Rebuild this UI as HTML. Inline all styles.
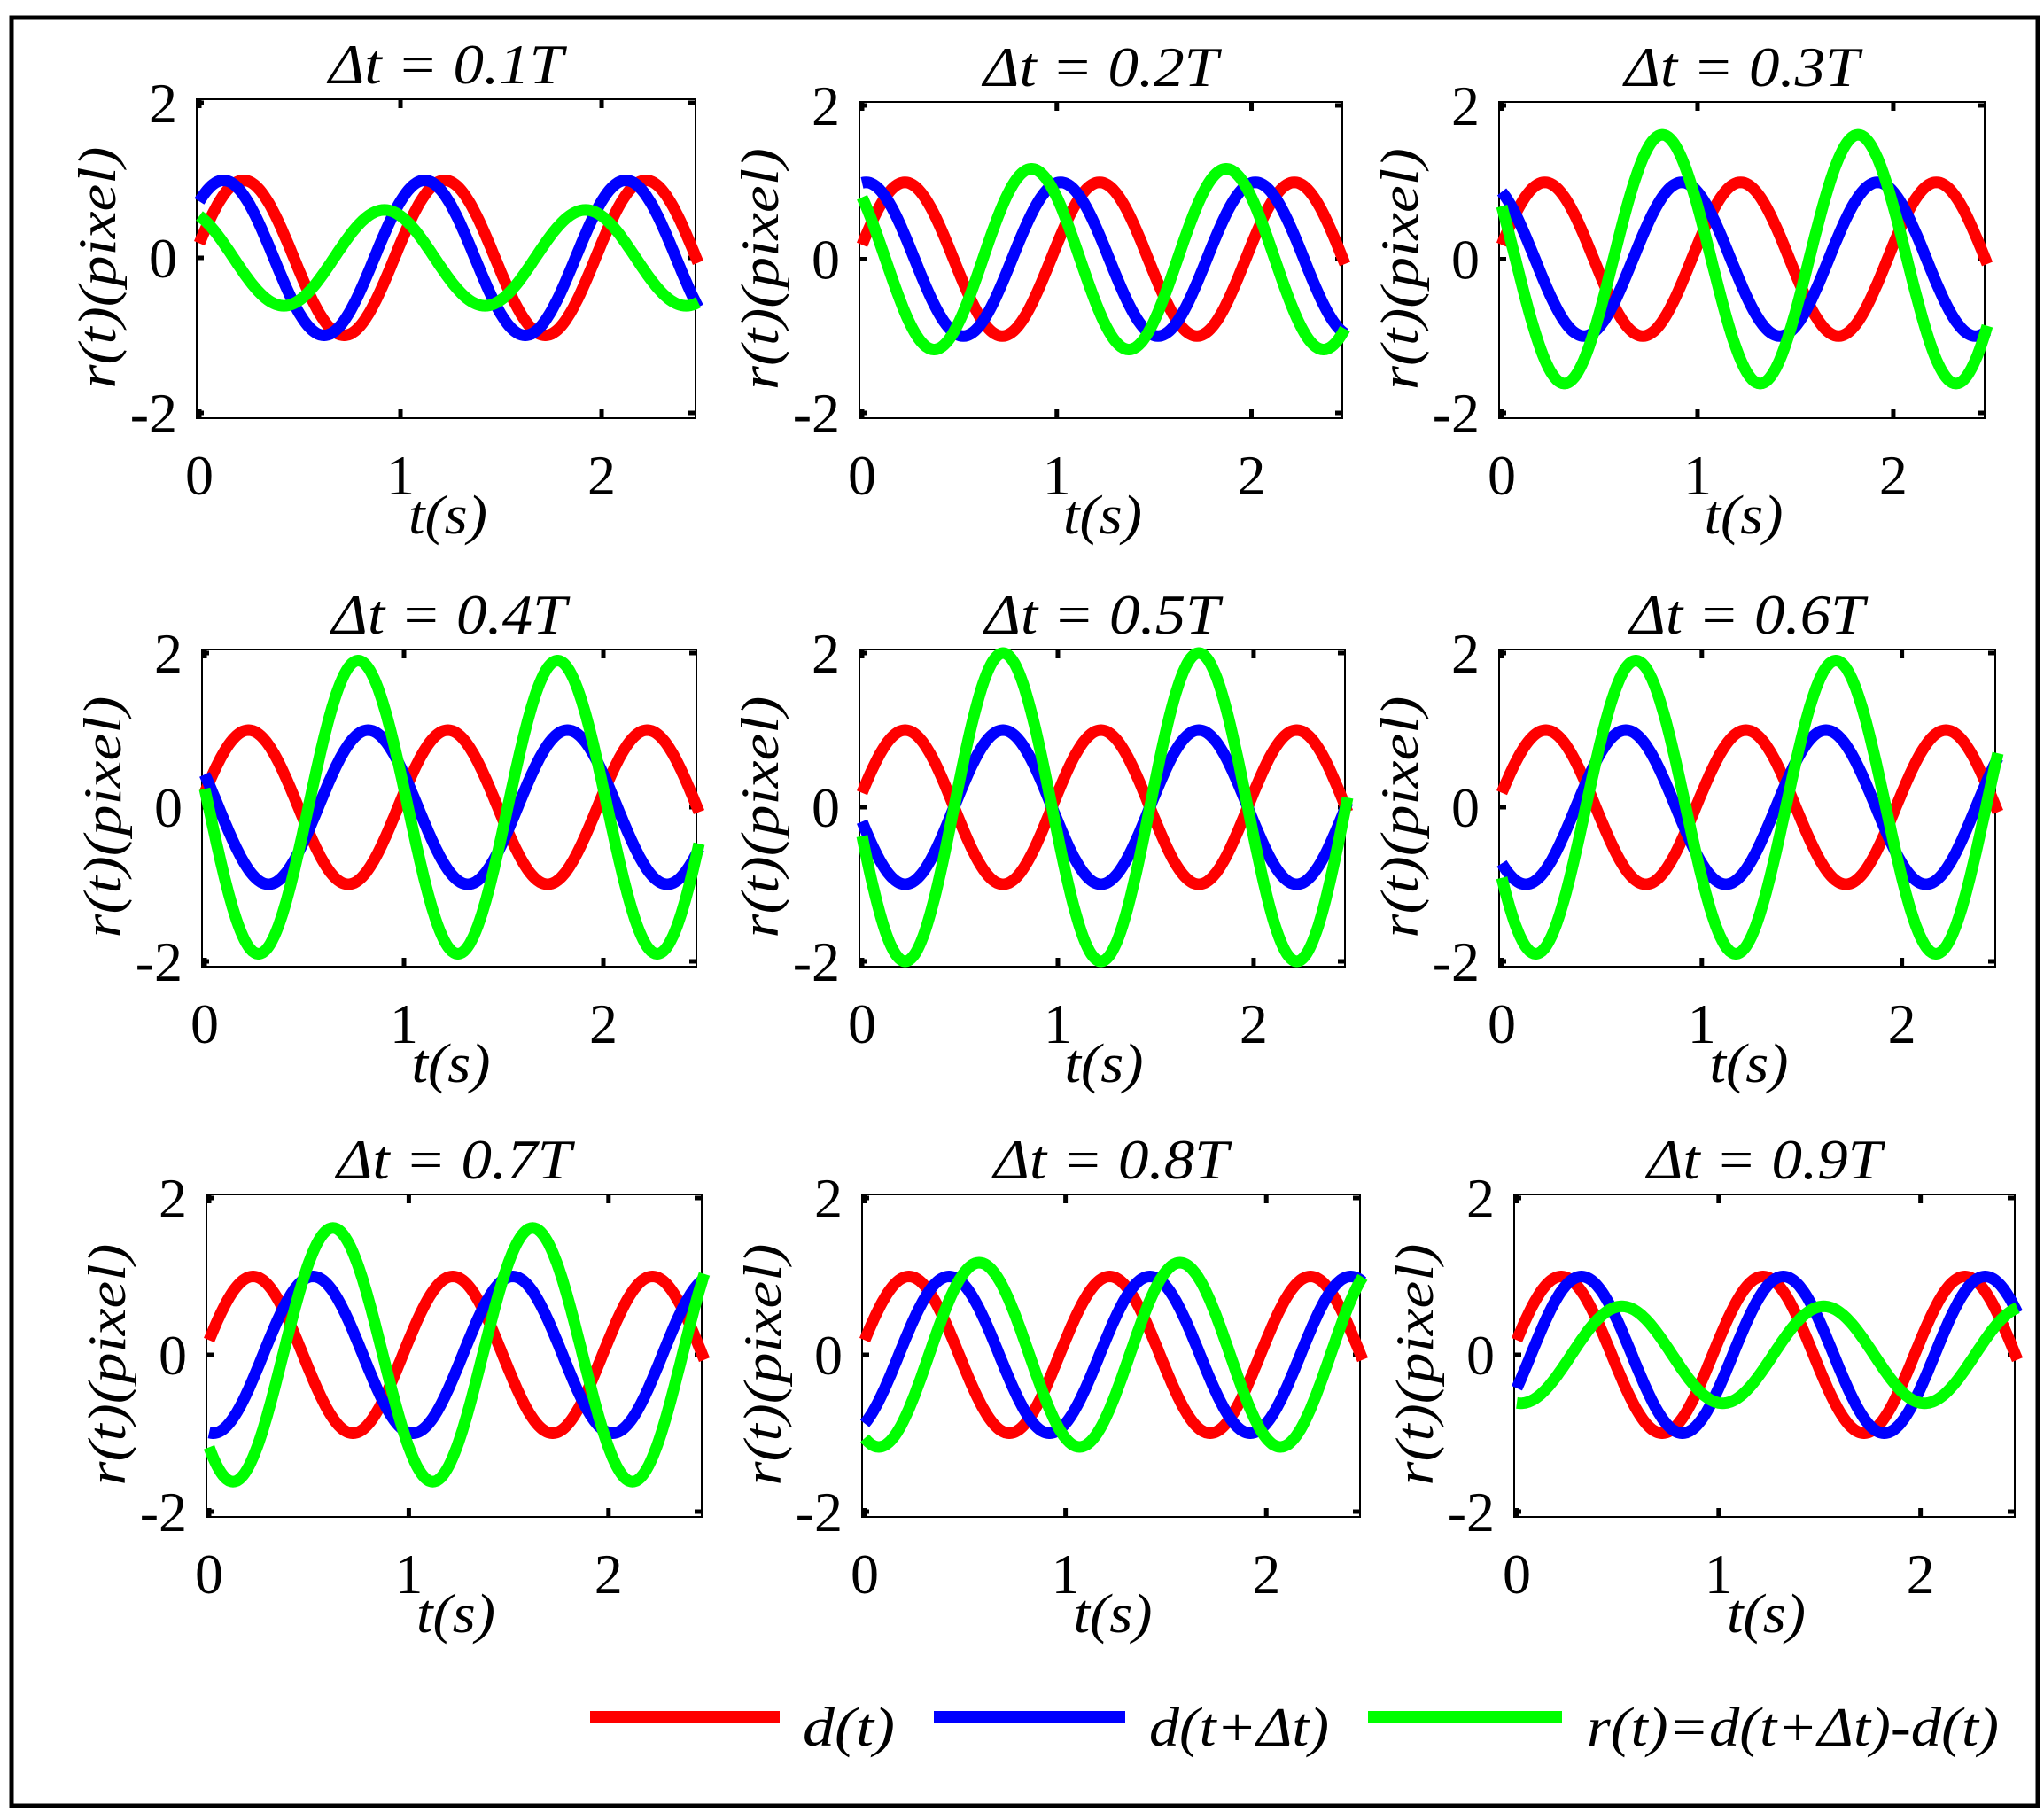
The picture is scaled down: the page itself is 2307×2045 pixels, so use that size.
<!DOCTYPE html>
<html><head><meta charset="utf-8"><style>
html,body{margin:0;padding:0;background:#fff;}
svg{display:block;}
text{font-family:"Liberation Serif","Times New Roman",serif;fill:#000;}
</style></head><body>
<svg id="s" xmlns="http://www.w3.org/2000/svg" width="2307" height="2045" viewBox="0 0 2307 2045">
<rect x="0" y="0" width="2307" height="2045" fill="#fff"/>
<rect x="13" y="20" width="2287" height="2018" fill="none" stroke="#000" stroke-width="5"/>
<g id="g"></g>
<line x1="666" y1="1938" x2="880" y2="1938" stroke="#ff0000" stroke-width="14"/>
<text x="906" y="1970" font-size="62" font-style="italic" textLength="104" lengthAdjust="spacingAndGlyphs">d(t)</text>
<line x1="1054" y1="1938" x2="1270" y2="1938" stroke="#0000ff" stroke-width="14"/>
<text x="1297" y="1970" font-size="62" font-style="italic" textLength="203" lengthAdjust="spacingAndGlyphs">d(t+Δt)</text>
<line x1="1544" y1="1938" x2="1763" y2="1938" stroke="#00ff00" stroke-width="14"/>
<text x="1791" y="1970" font-size="62" font-style="italic" textLength="465" lengthAdjust="spacingAndGlyphs">r(t)=d(t+Δt)-d(t)</text>
</svg>
<script>
var P=[[222,112,785,472],[970,115,1515,472],[1692,115,2240,472],
[228,733,786,1091],[970,733,1518,1091],[1692,733,2252,1091],
[233,1348,792,1712],[973,1348,1535,1712],[1709,1348,2274,1712]];
var h='';
for(var k=0;k<9;k++){
 var L=P[k][0],T=P[k][1],R=P[k][2],B=P[k][3],D=(k+1)/10;
 var x0=L+3,sx=(R-L)/2.48,y0=(T+B)/2-1,sy=(B-T-10)/4;
 function X(t){return x0+t*sx;} function Y(v){return y0-v*sy;}
 h+='<rect x="'+L+'" y="'+T+'" width="'+(R-L)+'" height="'+(B-T)+'" fill="none" stroke="#000" stroke-width="2"/>';
 [0,1,2].forEach(function(t){var x=X(t);h+='<line x1="'+x+'" y1="'+T+'" x2="'+x+'" y2="'+(T+10)+'" stroke="#000" stroke-width="5"/><line x1="'+x+'" y1="'+B+'" x2="'+x+'" y2="'+(B-10)+'" stroke="#000" stroke-width="5"/>';});
 [-2,0,2].forEach(function(v){var y=Y(v);h+='<line x1="'+L+'" y1="'+y+'" x2="'+(L+8)+'" y2="'+y+'" stroke="#000" stroke-width="5"/><line x1="'+R+'" y1="'+y+'" x2="'+(R-8)+'" y2="'+y+'" stroke="#000" stroke-width="5"/>';});
 var cols=['#ff0000','#0000ff','#00ff00'];
 for(var c=0;c<3;c++){
  var pts=[];
  for(var i=0;i<=248;i++){var t=i/100,r=Math.sin(2*Math.PI*(t+0.03)),b=Math.sin(2*Math.PI*(t+0.03+D));
   if(i==0){r=Math.sin(2*Math.PI*0.03);}
   var v=c==0?r:(c==1?b:b-r);pts.push(X(t).toFixed(1)+','+Y(v).toFixed(1));}
  h+='<polyline points="'+pts.join(' ')+'" fill="none" stroke="'+cols[c]+'" stroke-width="13" stroke-linejoin="round"/>';
 }
 var cx=(L+R)/2;
 h+='<text x="'+cx+'" y="'+(T-18)+'" font-size="64" font-style="italic" text-anchor="middle" textLength="265" lengthAdjust="spacingAndGlyphs">Δt = 0.'+(k+1)+'T</text>';
 [[2,'2'],[0,'0'],[-2,'-2']].forEach(function(a){h+='<text x="'+(L-22)+'" y="'+(Y(a[0])+22)+'" font-size="64" text-anchor="end">'+a[1]+'</text>';});
 [0,1,2].forEach(function(t){h+='<text x="'+X(t)+'" y="'+(B+86)+'" font-size="64" text-anchor="middle">'+t+'</text>';});
 h+='<text x="'+(cx+2)+'" y="'+(B+130)+'" font-size="62" font-style="italic" text-anchor="middle" textLength="89" lengthAdjust="spacingAndGlyphs">t(s)</text>';
 var ly=(T+B)/2+10,lx=L-92;
 h+='<text transform="translate('+lx+','+ly+') rotate(-90)" x="0" y="0" font-size="60" font-style="italic" text-anchor="middle" textLength="273" lengthAdjust="spacingAndGlyphs">r(t)(pixel)</text>';
}
document.getElementById('g').innerHTML=h;
</script>
</body></html>
